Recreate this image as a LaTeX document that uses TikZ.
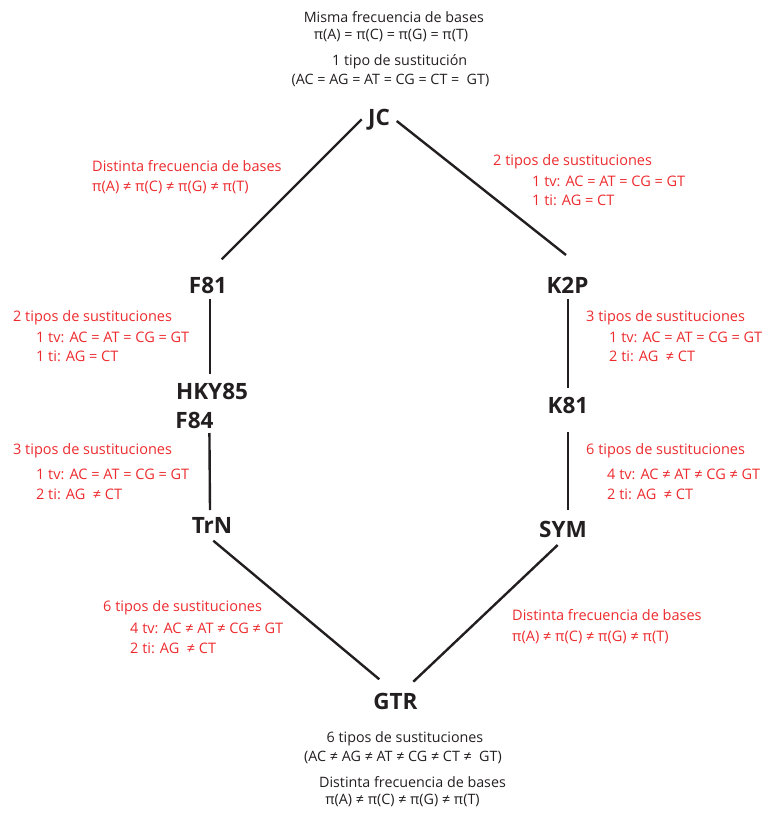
\documentclass[tikz,border=0pt]{standalone}
\usepackage{fontspec}
\setmainfont{Open Sans}
\definecolor{ink}{RGB}{35,31,32}
\definecolor{lab}{RGB}{237,43,46}
\begin{document}
\begin{tikzpicture}[x=1pt,y=-1pt,
  model/.style={inner sep=0pt, font=\fontsize{22.5}{24}\selectfont\bfseries, text=ink},
  info/.style={inner sep=0pt, font=\fontsize{14.3}{16}\selectfont, text=ink},
  red/.style={inner sep=0pt, anchor=mid west, yshift=-2.5pt, font=\fontsize{14.5}{16}\selectfont, text=lab},
  edge/.style={draw=ink, line width=2.4pt}]
\useasboundingbox (0,0) rectangle (768,813);
% models
\node[model] (JC) at (379,120) {JC};
\node[model] (F81) at (208,285) {F81};
\node[model] (K2P) at (567.5,285) {K2P};
\node[model] (HKY) at (212,391.7) {HKY85};
\node[model, anchor=west] (F84) at (175.2,420) {F84};
\node[model] (K81) at (568,405) {K81};
\node[model] (TrN) at (212,525) {TrN};
\node[model] (SYM) at (563,529) {SYM};
\node[model] (GTR) at (395.5,701) {GTR};
% connectors
\draw[edge] ([shift={(-17.3,-0.7)}]JC.center) -- ([shift={(13.7,-25.7)}]F81.center);
\draw[edge] ([shift={(17.7,1)}]JC.center) -- ([shift={(-1.5,-30)}]K2P.center);
\draw[edge] ([shift={(2,14.3)}]F81.center) -- ([shift={(-2,-17.7)}]HKY.center);
\draw[edge] ([shift={(15,13)}]F84.center) -- ([shift={(-2,-15)}]TrN.center);
\draw[edge] ([shift={(0.2,14)}]K2P.center) -- ([shift={(-0.3,-17)}]K81.center);
\draw[edge] ([shift={(0,27)}]K81.center) -- ([shift={(5,-19)}]SYM.center);
\draw[edge] ([shift={(1.3,15.7)}]TrN.center) -- ([shift={(-16.2,-21.7)}]GTR.center);
\draw[edge] ([shift={(-5.3,16)}]SYM.center) -- ([shift={(17.8,-19.3)}]GTR.center);
% top text
\node[info] (t1) at (393.8,17.5) {Misma frecuencia de bases};
\node[info] (t2) at (391,35.5) {π(A) = π(C) = π(G) = π(T)};
\node[info] (t3) at (399.7,62) {1 tipo de sustitución};
\node[info] (t4) at (390.5,80.5) {(AC = AG = AT = CG = CT =~~GT)};
% bottom text
\node[info] (b1) at (405,738.5) {6 tipos de sustituciones};
\node[info] (b2) at (403,757.5) {(AC ≠ AG ≠ AT ≠ CG ≠ CT ≠~~GT)};
\node[info] (b3) at (412.5,782) {Distinta frecuencia de bases};
\node[info] (b4) at (402.5,800.5) {π(A) ≠ π(C) ≠ π(G) ≠ π(T)};
% red labels
\node[red] (r1a) at (92,166) {Distinta frecuencia de bases};
\node[red] (r1b) at (92,186) {π(A) ≠ π(C) ≠ π(G) ≠ π(T)};
\node[red] (r2a) at (493,160) {2 tipos de sustituciones};
\node[red] (r2b) at (532,181) {1 tv: AC = AT = CG = GT};
\node[red] (r2c) at (532,200) {1 ti: AG = CT};
\node[red] (r3a) at (13,316) {2 tipos de sustituciones};
\node[red] (r3b) at (36,337) {1 tv: AC = AT = CG = GT};
\node[red] (r3c) at (36,356) {1 ti: AG = CT};
\node[red] (r4a) at (586,316) {3 tipos de sustituciones};
\node[red] (r4b) at (609,337) {1 tv: AC = AT = CG = GT};
\node[red] (r4c) at (609,356) {2 ti: AG~~≠ CT};
\node[red] (r5a) at (13,449) {3 tipos de sustituciones};
\node[red] (r5b) at (36,474) {1 tv: AC = AT = CG = GT};
\node[red] (r5c) at (36,494) {2 ti: AG~~≠ CT};
\node[red] (r6a) at (586,449) {6 tipos de sustituciones};
\node[red] (r6b) at (607,474) {4 tv: AC ≠ AT ≠ CG ≠ GT};
\node[red] (r6c) at (607,494) {2 ti: AG~~≠ CT};
\node[red] (r7a) at (103,606) {6 tipos de sustituciones};
\node[red] (r7b) at (130,628) {4 tv: AC ≠ AT ≠ CG ≠ GT};
\node[red] (r7c) at (130,648) {2 ti: AG~~≠ CT};
\node[red] (r8a) at (512,615) {Distinta frecuencia de bases};
\node[red] (r8b) at (512,636) {π(A) ≠ π(C) ≠ π(G) ≠ π(T)};
\end{tikzpicture}
\end{document}
